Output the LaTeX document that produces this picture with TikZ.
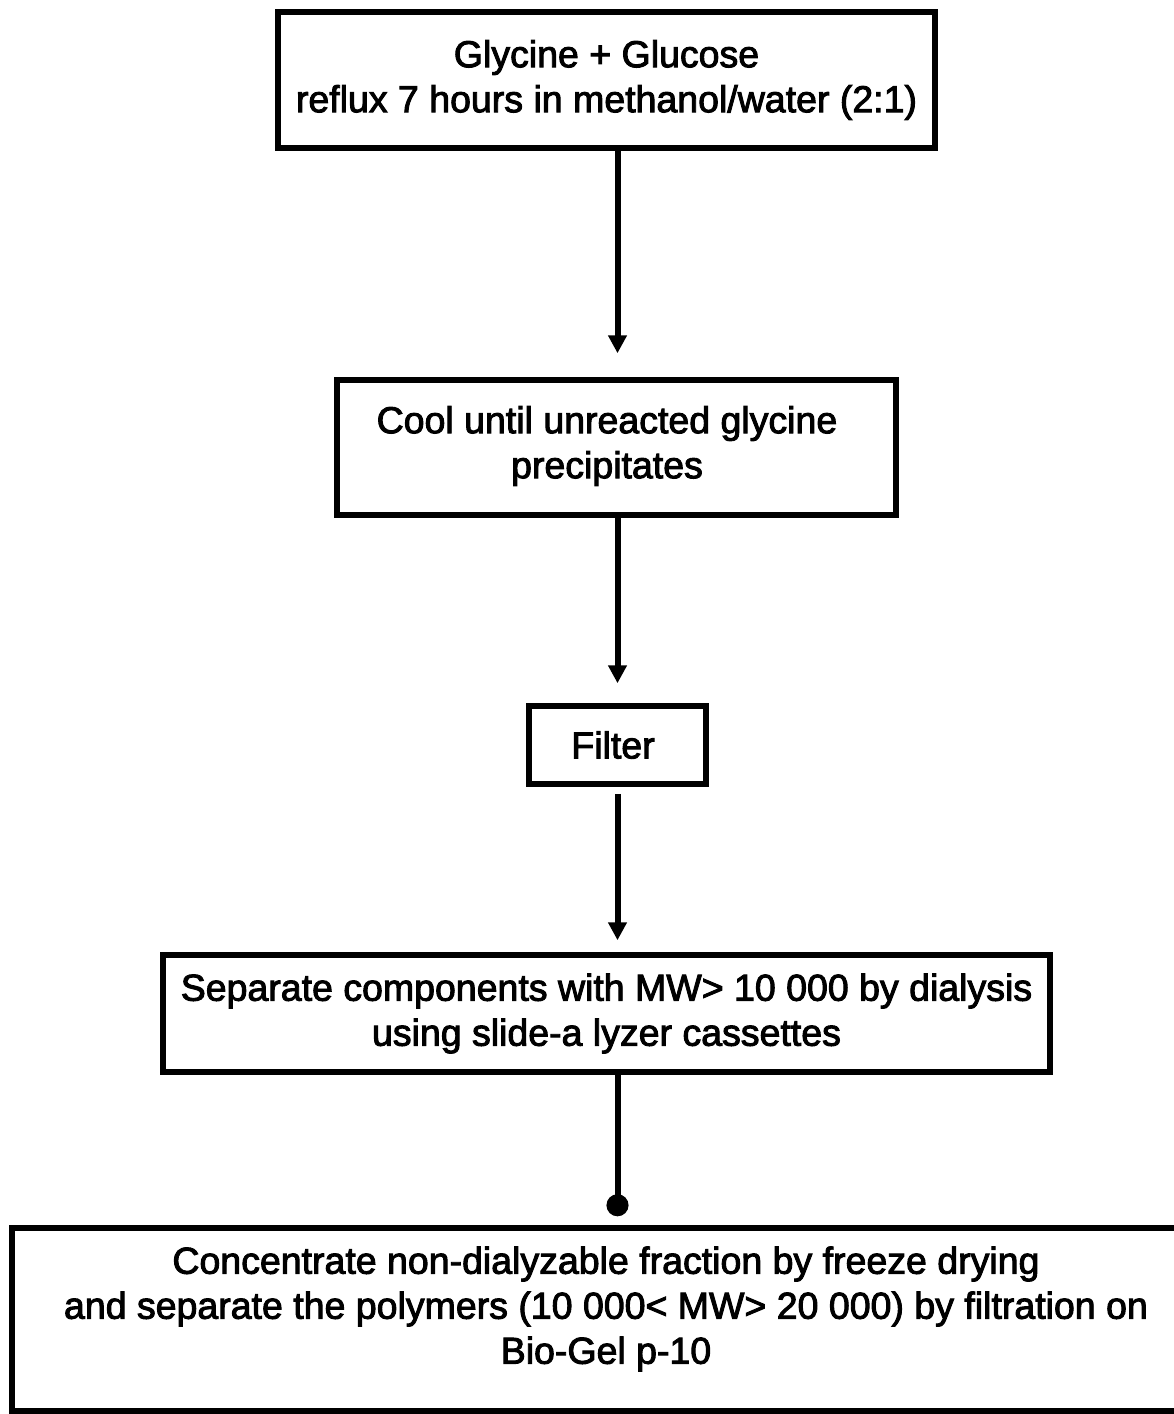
\documentclass[tikz,border=0pt]{standalone}
\usepackage{fontspec}
\setmainfont{Liberation Sans}[FakeBold=2.5]
\usetikzlibrary{arrows.meta}

\begin{document}
\begin{tikzpicture}[x=1pt,y=1pt,yscale=-1,xscale=1,
    stepbox/.style={draw,line width=5.5pt,inner sep=0pt,align=center,font=\fontsize{37.5}{45}\selectfont},
    steptext/.style={inner sep=0pt,align=center,font=\fontsize{37.5}{45}\selectfont},
    flow/.style={line width=6pt,-{Triangle[length=18pt,width=18pt]}}]
    %set diagram to the size of the scan
    \useasboundingbox (0,0) rectangle (1174,1414);
    \clip (0,0) rectangle (1174,1414);

    % Box: start
    \node (glycine) [stepbox,minimum width=657,minimum height=136] at (606.5,80) {Glycine + Glucose\\reflux 7 hours in methanol/water (2:1)};
    % Box: cooling
    \node (cool) [stepbox,minimum width=559,minimum height=135] at (616.5,447.5) {};
    % Text Node
    \node (cooltext) [steptext] at (607,446) {Cool until unreacted glycine\\precipitates};
    % Box: filter
    \node (filter) [stepbox,minimum width=177,minimum height=78] at (617.5,745) {};
    % Text Node
    \node (filtertext) [steptext] at (613,745) {Filter};
    % Box: dialysis
    \node (dialysis) [stepbox,minimum width=887,minimum height=117] at (606.5,1013.5) {Separate components with MW> 10 000 by dialysis\\using slide-a lyzer cassettes};
    % Box: last step, runs off the page
    \node (concentrate) [stepbox,minimum width=1178,minimum height=183] at (601,1319.5) {};
    % Text Node
    \node (concentratetext) [steptext] at (606,1309) {Concentrate non-dialyzable fraction by freeze drying\\and separate the polymers (10 000< MW> 20 000) by filtration on\\Bio-Gel p-10};

    % Arrows
    \draw[flow,shorten >=24pt] (glycine.south -| filter) -- (cool.north -| filter);
    \draw[flow,shorten >=20pt] (cool.south -| filter) -- (filter.north);
    \draw[flow,shorten <=7pt,shorten >=12pt] (filter.south) -- (dialysis.north -| filter);
    \draw[line width=6pt,-{Circle[length=22pt]},shorten >=9pt] (dialysis.south -| filter) -- (concentrate.north -| filter);

\end{tikzpicture}
\end{document}
